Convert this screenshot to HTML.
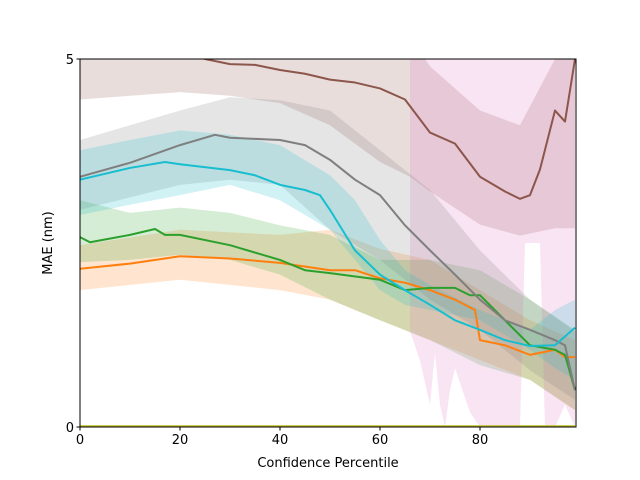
<!DOCTYPE html>
<html><head><meta charset="utf-8"><style>
html,body{margin:0;padding:0;background:#fff;}
svg{display:block;font-family:"DejaVu Sans","Liberation Sans",sans-serif;}
</style></head><body>
<svg id="chart" width="640" height="480">
<defs><clipPath id="clip"><rect x="80" y="59" width="496" height="368"/></clipPath></defs>
<g id="plot" clip-path="url(#clip)"></g>
<g id="axes"></g>
</svg>
<script>
const xTicks = [0, 20, 40, 60, 80];
const yTicks = [0, 5];
const xLabel = "Confidence Percentile";
const yLabel = "MAE (nm)";

const orangeX = [0,10,20,30,40,50,55,60,65,70,75,79,80,85,90,95,97,99];
const orangeY = [2.15,2.22,2.32,2.29,2.23,2.13,2.13,2.02,1.96,1.86,1.73,1.59,1.18,1.11,0.98,1.05,0.95,0.95];
const orangeBX = [0,20,40,50,60,70,80,90,99];
const orangeHi = [2.47,2.68,2.61,2.68,2.42,2.27,1.86,1.45,1.18];
const orangeLo = [1.86,2.0,1.86,1.73,1.45,1.18,0.91,0.64,0.23];

const greenX = [0,2,10,15,17,20,30,40,45,50,60,65,70,75,78,80,85,90,95,97,99];
const greenY = [2.58,2.51,2.61,2.69,2.61,2.61,2.47,2.27,2.13,2.09,2.0,1.86,1.89,1.89,1.79,1.79,1.45,1.11,1.05,0.98,0.5];
const greenBX = [0,10,20,30,40,50,60,70,80,90,99];
const greenHi = [3.08,2.91,2.98,2.91,2.74,2.61,2.27,2.27,2.13,1.73,1.32];
const greenLo = [2.24,2.27,2.34,2.27,2.07,1.73,1.45,1.18,0.84,0.64,0.23];

const brownX = [0,10,20,25,30,35,40,45,50,55,60,65,70,75,80,85,88,90,92,95,97,99];
const brownY = [5.6,5.45,5.2,5.0,4.93,4.92,4.85,4.8,4.72,4.68,4.6,4.45,4.0,3.85,3.4,3.2,3.1,3.15,3.5,4.3,4.15,5.0];
const brownBX = [0,20,30,40,50,60,66,70,80,88,95,99];
const brownHi = [5.5,5.5,5.5,5.5,5.5,5.5,5.3,4.9,4.3,4.1,5.0,5.0];
const brownLo = [4.45,4.55,4.5,4.4,4.1,3.6,3.4,3.2,2.75,2.6,2.7,2.7];

const pinkBX = [66,68,70,71,72,73,74,75,78,80,85,88,89,92,93,95,97,99];
const pinkHi = [5.5,5.5,5.5,5.5,5.5,5.5,5.5,5.5,5.5,5.5,5.5,5.5,5.5,5.5,5.5,5.5,5.5,5.5];
const pinkLo = [1.3,0.9,0.3,1.0,0.3,0.0,0.5,0.8,0.2,0.0,0.0,0.0,2.5,2.5,0.0,0.0,0.3,0.0];

const grayX = [0,10,20,27,30,40,45,50,55,60,65,70,75,80,85,90,95,97,99];
const grayY = [3.4,3.59,3.83,3.97,3.93,3.9,3.83,3.63,3.36,3.15,2.74,2.4,2.07,1.73,1.45,1.32,1.18,1.11,0.5];
const grayBX = [0,20,30,40,50,60,70,80,90,99];
const grayHi = [3.9,4.3,4.48,4.44,4.3,3.76,3.22,2.4,1.73,1.3];
const grayLo = [2.95,3.29,3.36,3.29,2.68,2.27,1.73,1.32,0.77,0.37];

const olX = [0,99];
const olY = [0.01,0.01];

const cyanX = [0,10,17,20,30,35,40,45,48,50,55,60,65,70,75,80,85,90,95,99];
const cyanY = [3.36,3.52,3.6,3.57,3.49,3.42,3.29,3.22,3.15,2.95,2.4,2.07,1.86,1.66,1.45,1.32,1.18,1.1,1.11,1.35];
const cyanBX = [0,10,20,30,40,50,55,60,65,70,80,90,95,99];
const cyanHi = [3.76,3.9,4.03,3.97,3.83,3.42,3.08,2.54,2.13,1.93,1.59,1.32,1.59,1.73];
const cyanLo = [2.88,3.02,3.15,3.29,3.08,2.68,2.27,1.86,1.66,1.59,1.45,1.05,0.8,0.64];

const L=80,R=576,T=59,B=427;
const sx = v => L + v/99.2*(R-L);
const sy = v => B - v/5*(B-T);
const NS="http://www.w3.org/2000/svg";
const plot=document.getElementById('plot');
const axes=document.getElementById('axes');

function band(xs,hi,lo,color,name){
  let d='M'+xs.map((x,i)=>sx(x)+','+sy(hi[i])).join('L');
  for(let i=xs.length-1;i>=0;i--) d+='L'+sx(xs[i])+','+sy(lo[i]);
  const p=document.createElementNS(NS,'path');
  p.setAttribute('d',d+'Z');p.setAttribute('fill',color);p.setAttribute('fill-opacity','0.2');
  
  
  plot.appendChild(p);
}
function line(xs,ys,color,name){
  const p=document.createElementNS(NS,'polyline');
  p.setAttribute('points',xs.map((x,i)=>sx(x)+','+sy(ys[i])).join(' '));
  p.setAttribute('fill','none');p.setAttribute('stroke',color);p.setAttribute('stroke-width','2');
  p.setAttribute('stroke-linejoin','round');
  
  
  plot.appendChild(p);
}
band(orangeBX,orangeHi,orangeLo,'#ff7f0e','orange-band');
band(greenBX,greenHi,greenLo,'#2ca02c','green-band');
band(brownBX,brownHi,brownLo,'#8c564b','brown-band');
band(pinkBX,pinkHi,pinkLo,'#e377c2','pink-band');
band(grayBX,grayHi,grayLo,'#7f7f7f','gray-band');
band(cyanBX,cyanHi,cyanLo,'#17becf','cyan-band');
line(orangeX,orangeY,'#ff7f0e','orange-line');
line(greenX,greenY,'#2ca02c','green-line');
line(brownX,brownY,'#8c564b','brown-line');
line(grayX,grayY,'#7f7f7f','gray-line');
line(olX,olY,'#bcbd22','olive-line');
line(cyanX,cyanY,'#17becf','cyan-line');

function el(tag,attrs,parent,text){
  const e=document.createElementNS(NS,tag);
  for(const k in attrs) e.setAttribute(k,attrs[k]);
  if(text!==undefined) e.textContent=text;
  parent.appendChild(e);return e;
}
const frame=el('rect',{x:L,y:T,width:R-L,height:B-T,fill:'none',stroke:'#000','stroke-width':1},axes);


xTicks.forEach(v=>{
  const t=el('line',{x1:sx(v),x2:sx(v),y1:B,y2:B+3.5,stroke:'#000'},axes);
  
  
  const lb=el('text',{x:sx(v),y:B+17,'text-anchor':'middle','font-size':'13'},axes,String(v));
  
  
});
yTicks.forEach(v=>{
  const t=el('line',{x1:L-3.5,x2:L,y1:sy(v),y2:sy(v),stroke:'#000'},axes);
  
  
  const lb=el('text',{x:L-6,y:sy(v)+5,'text-anchor':'end','font-size':'13'},axes,String(v));
  
  
});
const xl=el('text',{x:(L+R)/2,y:467,'text-anchor':'middle','font-size':'13'},axes,xLabel);


const yl=el('text',{x:0,y:0,'text-anchor':'middle','font-size':'13',transform:'translate(52,243) rotate(-90)'},axes,yLabel);


</script>
</body></html>
